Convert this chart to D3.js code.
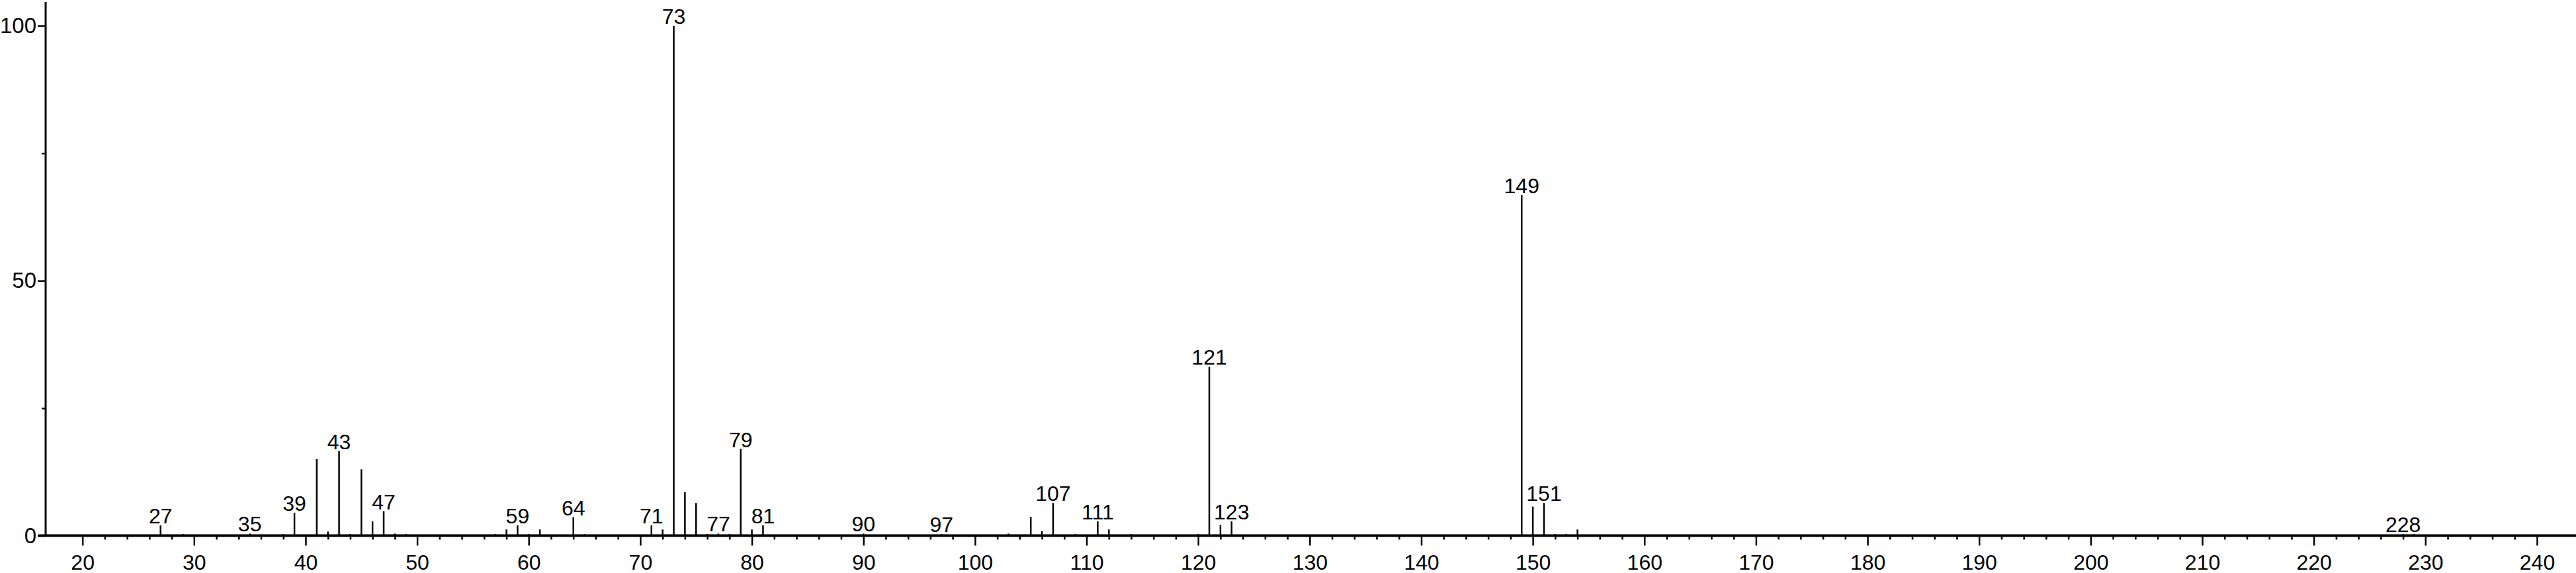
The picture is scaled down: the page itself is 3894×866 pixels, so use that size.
<!DOCTYPE html>
<html>
<head>
  <script src="https://d3js.org/d3.v7.min.js"></script>
  <style>
  html, body {
    margin: 0px;
    background: #fff;
  }
  svg text {
    font-family: "Liberation Sans", Arial, sans-serif;
  }
  </style>
</head>
<body>
  <svg id="chart"></svg>
  <script>

  // m/z values and relative intensities (%)
  var mz = [27, 29, 35, 38, 39, 41, 42, 43, 44, 45, 46, 47, 48, 49,
            57, 58, 59, 60, 61, 64, 65, 66, 71, 72, 73, 74, 75, 76, 77, 78, 79, 80, 81,
            90, 97, 103, 105, 106, 107, 109, 111, 112, 114, 120, 121, 122, 123,
            149, 150, 151, 152, 153, 154, 228, 229];
  var intensity = [2.0, 0.3, 0.4, 0.3, 4.5, 15.0, 0.8, 16.6, 0.3, 13.0, 2.8, 4.8, 0.4, 0.3,
                   0.3, 1.2, 2.0, 0.3, 1.2, 3.6, 0.3, 0.2, 2.0, 1.2, 100, 8.5, 6.4, 0.3, 0.4, 0.3, 17.0, 1.2, 2.0,
                   0.4, 0.3, 0.4, 3.7, 0.9, 6.4, 0.3, 2.8, 1.2, 0.3, 0.3, 33.1, 2.1, 2.8,
                   66.8, 5.7, 6.4, 0.3, 0.3, 1.2, 0.3, 0.3];
  var labelled = [27, 35, 39, 43, 47, 59, 64, 71, 73, 77, 79, 81, 90, 97,
                  107, 111, 121, 123, 149, 151, 228];

  var majorTicks = d3.range(20, 241, 10);
  var minorTicks = d3.range(20, 241, 2).filter(function(d) { return d % 10 !== 0; });
  var yMajor = [0, 50, 100];
  var yMinor = [25, 75];

  var width = 3894, height = 866;

  var svg = d3.select("#chart")
    .attr("width", width)
    .attr("height", height);

  var x = d3.scaleLinear().domain([16.7, 243.5]).range([69, 3894]);
  var y = d3.scaleLinear().domain([0, 100]).range([809.5, 39]);

  var peaks = mz.map(function(m, i) { return {mz: m, val: intensity[i]}; });

  // peaks
  svg.append("g").selectAll("line")
    .data(peaks)
    .enter().append("line")
      .attr("x1", function(d) { return x(d.mz); })
      .attr("x2", function(d) { return x(d.mz); })
      .attr("y1", y(0))
      .attr("y2", function(d) { return y(d.val); })
      .attr("stroke", "#000")
      .attr("stroke-width", 2.5);

  // peak labels
  svg.append("g").selectAll("text")
    .data(peaks.filter(function(d) { return labelled.indexOf(d.mz) >= 0; }))
    .enter().append("text")
      .attr("x", function(d) { return x(d.mz); })
      .attr("y", function(d) { return y(d.val) - 3; })
      .attr("text-anchor", "middle")
      .attr("font-size", 32)
      .attr("fill", "#000")
      .text(function(d) { return d.mz; });

  // x axis, minor ticks first then major with labels
  var xg = svg.append("g").attr("transform", "translate(0," + y(0) + ")");
  xg.append("g")
    .call(d3.axisBottom(x).tickValues(minorTicks).tickSize(6).tickSizeOuter(0).tickFormat(""))
    .call(function(g) { g.select(".domain").remove(); });
  xg.append("g")
    .call(d3.axisBottom(x).tickValues(majorTicks).tickSize(15).tickSizeOuter(0).tickFormat(d3.format("d")));
  xg.append("line")
    .attr("x1", 58).attr("x2", width)
    .attr("stroke", "#000").attr("stroke-width", 4);
  xg.selectAll(".tick line").attr("stroke-width", 2.5);
  xg.selectAll(".domain").remove();
  xg.selectAll("text")
    .attr("y", 51)
    .attr("dy", 0)
    .attr("font-size", 32)
    .attr("font-family", "Liberation Sans, Arial, sans-serif");

  // y axis
  var yg = svg.append("g").attr("transform", "translate(69,0)");
  yg.append("g")
    .call(d3.axisLeft(y).tickValues(yMinor).tickSize(6).tickSizeOuter(0).tickFormat(""))
    .call(function(g) { g.select(".domain").remove(); });
  yg.append("g")
    .call(d3.axisLeft(y).tickValues(yMajor).tickSize(12).tickSizeOuter(0).tickFormat(d3.format("d")))
    .call(function(g) { g.select(".domain").remove(); });
  yg.append("line")
    .attr("y1", 3).attr("y2", y(0))
    .attr("stroke", "#000").attr("stroke-width", 3);
  yg.selectAll(".tick line").attr("stroke-width", 2.5);
  yg.selectAll("text")
    .attr("x", -14)
    .attr("font-size", 33)
    .attr("font-family", "Liberation Sans, Arial, sans-serif");

  </script>
</body>
</html>
